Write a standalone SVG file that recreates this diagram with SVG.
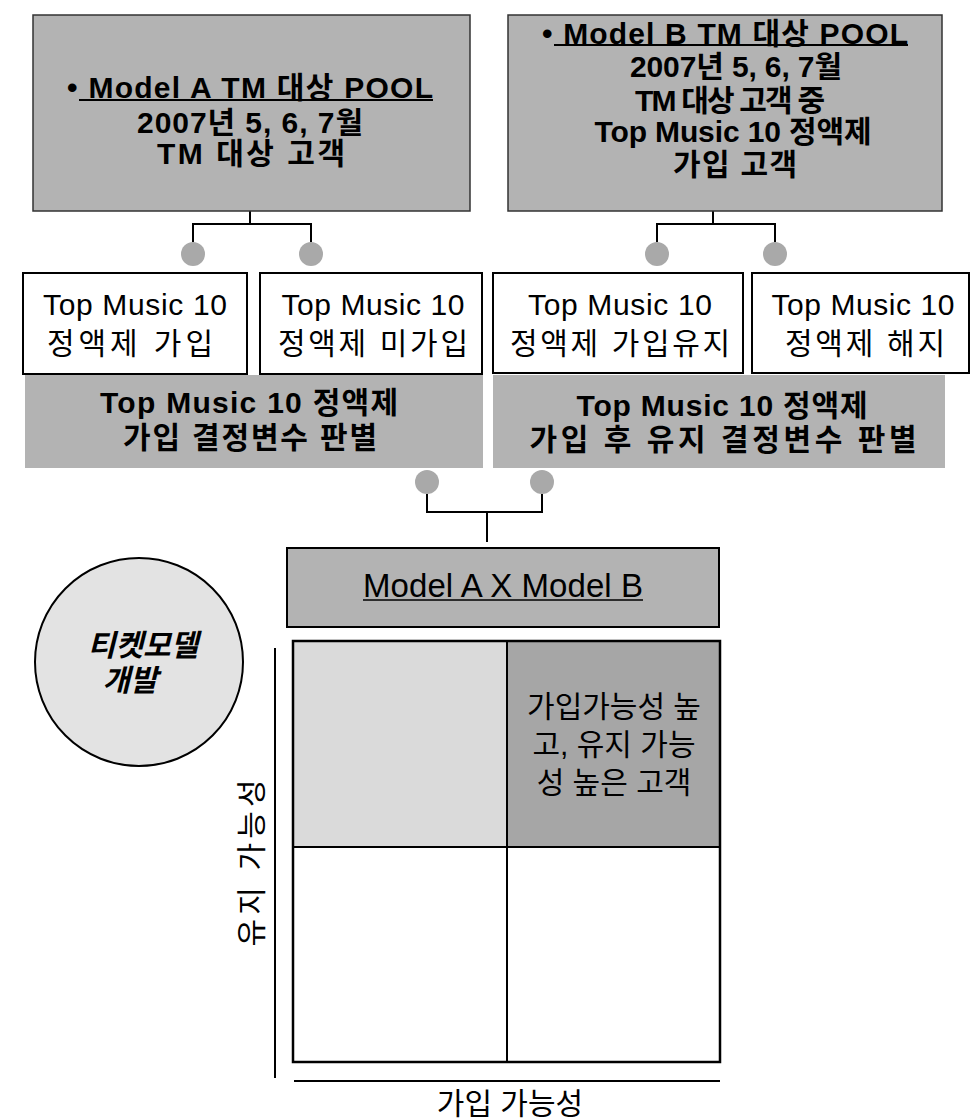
<svg xmlns="http://www.w3.org/2000/svg" width="971" height="1120" viewBox="0 0 971 1120">
<style>
text{font-family:"Liberation Sans","Noto Sans CJK KR",sans-serif;font-size:30px;fill:#000;text-anchor:middle;dominant-baseline:central}
.b{font-weight:bold}
.bi{font-weight:bold;font-style:italic}
.gray{fill:#b3b3b3}
.grayb{fill:#b3b3b3;stroke:#333;stroke-width:1.5}
.white{fill:#fff;stroke:#000;stroke-width:2}
.ln{fill:none;stroke:#000;stroke-width:2}
.dot{fill:#a9a9a9}
</style>
<rect width="971" height="1120" fill="#fff"/>
<g id="connectors">
<path class="ln" d="M250 211V224M193 242V224H311V242"/>
<path class="ln" d="M713 211V224M657 242V224H775V242"/>
<path class="ln" d="M427 494V512H542V494M487 512V542"/>
<circle class="dot" cx="193" cy="254" r="12"/>
<circle class="dot" cx="311" cy="254" r="12"/>
<circle class="dot" cx="657" cy="254" r="12"/>
<circle class="dot" cx="775" cy="254" r="12"/>
<circle class="dot" cx="427" cy="482" r="12"/>
<circle class="dot" cx="542" cy="482" r="12"/>
</g>
<g id="poolA">
<rect class="grayb" x="33" y="15" width="437" height="196"/>
<text class="b" x="250" y="87" textLength="366" lengthAdjust="spacing">• Model A TM 대상 POOL</text>
<line x1="79" y1="100" x2="433" y2="100" stroke="#000" stroke-width="2"/>
<text class="b" x="250" y="122" textLength="226" lengthAdjust="spacing">2007년 5, 6, 7월</text>
<text class="b" x="251" y="153" textLength="188" lengthAdjust="spacing">TM 대상 고객</text>
</g>
<g id="poolB">
<rect class="grayb" x="508" y="15" width="434" height="196"/>
<text class="b" x="725" y="33" textLength="366" lengthAdjust="spacing">• Model B TM 대상 POOL</text>
<line x1="554" y1="45" x2="908" y2="45" stroke="#000" stroke-width="2"/>
<text class="b" x="736" y="66" textLength="212" lengthAdjust="spacing">2007년 5, 6, 7월</text>
<text class="b" x="730" y="100" textLength="190" lengthAdjust="spacing">TM 대상 고객 중</text>
<text class="b" x="733" y="131" textLength="277" lengthAdjust="spacing">Top Music 10 정액제</text>
<text class="b" x="735" y="164" textLength="124" lengthAdjust="spacing">가입 고객</text>
</g>
<g id="join">
<rect class="white" x="23" y="273" width="224" height="101"/>
<text x="135" y="304" textLength="184" lengthAdjust="spacing">Top Music 10</text>
<text x="130" y="343" textLength="166" lengthAdjust="spacing">정액제 가입</text>
</g>
<g id="nojoin">
<rect class="white" x="260" y="273" width="222" height="101"/>
<text x="373" y="304" textLength="183" lengthAdjust="spacing">Top Music 10</text>
<text x="373" y="343" textLength="190" lengthAdjust="spacing">정액제 미가입</text>
</g>
<g id="keep">
<rect class="white" x="493" y="273" width="250" height="100"/>
<text x="620" y="304" textLength="184" lengthAdjust="spacing">Top Music 10</text>
<text x="620" y="343" textLength="220" lengthAdjust="spacing">정액제 가입유지</text>
</g>
<g id="cancel">
<rect class="white" x="752" y="273" width="217" height="100"/>
<text x="863" y="304" textLength="183" lengthAdjust="spacing">Top Music 10</text>
<text x="865" y="343" textLength="160" lengthAdjust="spacing">정액제 해지</text>
</g>
<g id="bandA">
<rect class="gray" x="25" y="375" width="458" height="93"/>
<text class="b" x="249" y="402" textLength="298" lengthAdjust="spacing">Top Music 10 정액제</text>
<text class="b" x="250" y="437" textLength="254" lengthAdjust="spacing">가입 결정변수 판별</text>
</g>
<g id="bandB">
<rect class="gray" x="493" y="375" width="452" height="93"/>
<text class="b" x="722" y="405" textLength="291" lengthAdjust="spacing">Top Music 10 정액제</text>
<text class="b" x="723" y="439" textLength="387" lengthAdjust="spacing">가입 후 유지 결정변수 판별</text>
</g>
<g id="modelAB">
<rect class="gray" x="287" y="548" width="432" height="79" stroke="#000" stroke-width="2"/>
<text x="503" y="585" style="font-size:33px" textLength="280" lengthAdjust="spacing">Model A X Model B</text>
<line x1="363" y1="600" x2="643" y2="600" stroke="#000" stroke-width="1.5"/>
</g>
<g id="ticket">
<circle cx="139" cy="662" r="104" fill="#e3e3e3" stroke="#000" stroke-width="2"/>
<text class="bi" x="143" y="645">티켓모델</text>
<text class="bi" x="130" y="680">개발</text>
</g>
<g id="matrix">
<rect x="293" y="641" width="214" height="206" fill="#dadada"/>
<rect x="507" y="641" width="213" height="206" fill="#a6a6a6"/>
<rect x="293" y="641" width="427" height="421" fill="none" stroke="#000" stroke-width="2.5"/>
<line x1="507" y1="641" x2="507" y2="1062" stroke="#000" stroke-width="2"/>
<line x1="293" y1="847" x2="720" y2="847" stroke="#000" stroke-width="2"/>
<text x="614" y="706">가입가능성 높</text>
<text x="614" y="744">고, 유지 가능</text>
<text x="614" y="782">성 높은 고객</text>
</g>
<g id="axes">
<line x1="275" y1="648" x2="275" y2="1078" stroke="#000" stroke-width="2"/>
<line x1="294" y1="1081" x2="720" y2="1081" stroke="#000" stroke-width="2"/>
<text transform="translate(251 863) rotate(-90)" x="0" y="0" textLength="167" lengthAdjust="spacing">유지 가능성</text>
<text x="510" y="1103">가입 가능성</text>
</g>
</svg>
